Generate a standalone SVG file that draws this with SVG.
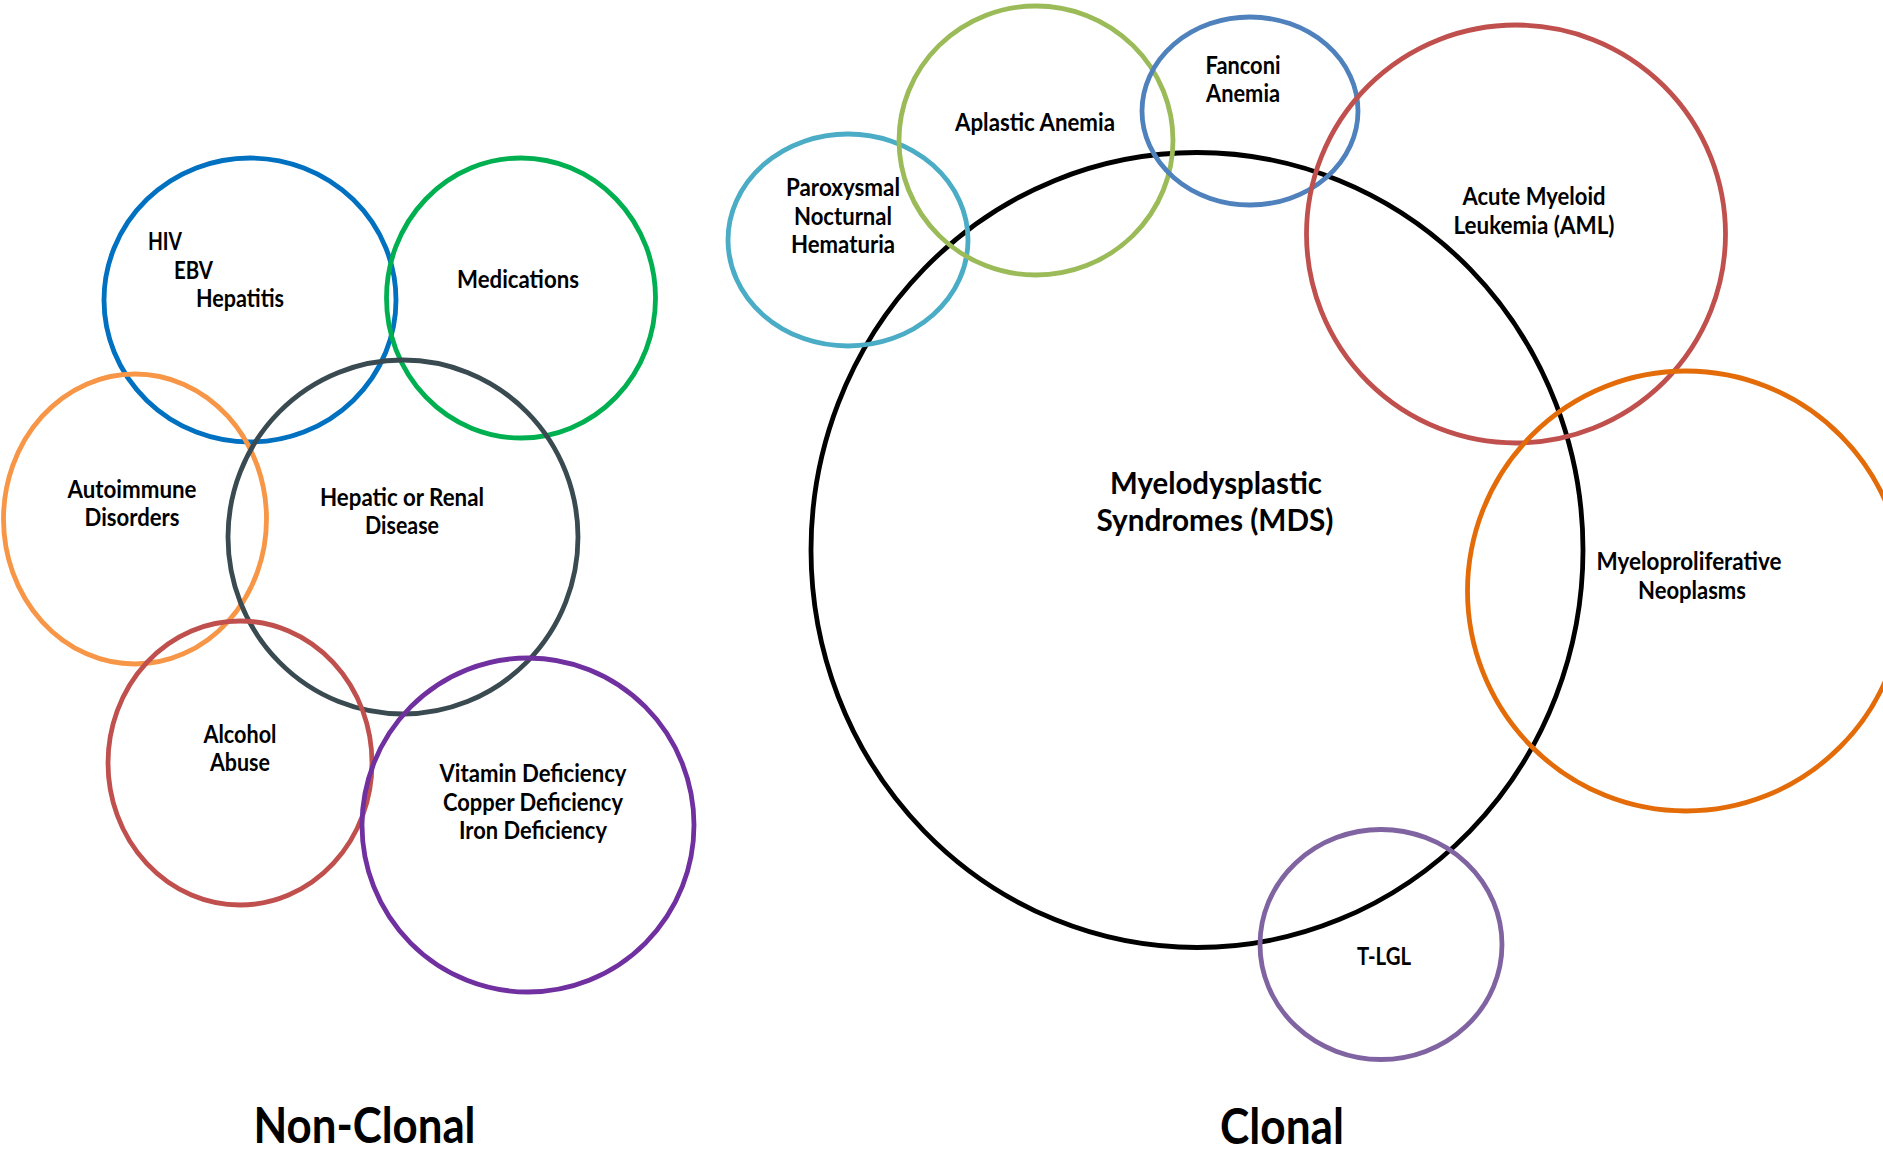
<svg xmlns="http://www.w3.org/2000/svg" width="1883" height="1154" viewBox="0 0 1883 1154">
<style>
.c{fill:none;stroke-width:4.8}
.t{font-family:Lato,"Open Sans","Liberation Sans",sans-serif;font-weight:bold;font-size:24px;fill:#000;text-anchor:middle}
.ts{text-anchor:start}
.big{font-size:31px}
.hdr{font-size:50px}
</style>
<rect width="1883" height="1154" fill="#fff"/>
<g id="connectors"/>
<g id="hiv">
<ellipse class="c" cx="250" cy="300" rx="146" ry="142" stroke="#0070C0"/>
<text class="t ts" x="148" y="249.5" textLength="34" lengthAdjust="spacingAndGlyphs">HIV</text>
<text class="t ts" x="174" y="278.5" textLength="39" lengthAdjust="spacingAndGlyphs">EBV</text>
<text class="t ts" x="196" y="306.5" textLength="88" lengthAdjust="spacingAndGlyphs">Hepatitis</text>
</g>
<g id="medications">
<ellipse class="c" cx="521" cy="298" rx="134.5" ry="140" stroke="#00B050"/>
<text class="t" x="518" y="287.5" textLength="122" lengthAdjust="spacingAndGlyphs">Medications</text>
</g>
<g id="autoimmune">
<ellipse class="c" cx="135" cy="519" rx="131.5" ry="145" stroke="#F79646"/>
<text class="t" x="132" y="497.5" textLength="129" lengthAdjust="spacingAndGlyphs">Autoimmune</text>
<text class="t" x="132" y="525.5" textLength="95" lengthAdjust="spacingAndGlyphs">Disorders</text>
</g>
<g id="hepatic">
<ellipse class="c" cx="403" cy="537" rx="175" ry="177" stroke="#3A4A51"/>
<text class="t" x="402" y="505.5" textLength="164" lengthAdjust="spacingAndGlyphs">Hepatic or Renal</text>
<text class="t" x="402" y="533.5" textLength="74" lengthAdjust="spacingAndGlyphs">Disease</text>
</g>
<g id="alcohol">
<ellipse class="c" cx="240" cy="763" rx="132" ry="142" stroke="#C0504D"/>
<text class="t" x="240" y="742.5" textLength="73" lengthAdjust="spacingAndGlyphs">Alcohol</text>
<text class="t" x="240" y="770.5" textLength="60" lengthAdjust="spacingAndGlyphs">Abuse</text>
</g>
<g id="deficiency">
<ellipse class="c" cx="528" cy="825" rx="166" ry="167" stroke="#7030A0"/>
<text class="t" x="533" y="781.5" textLength="187" lengthAdjust="spacingAndGlyphs">Vitamin Deficiency</text>
<text class="t" x="533" y="810.5" textLength="180" lengthAdjust="spacingAndGlyphs">Copper Deficiency</text>
<text class="t" x="533" y="838.5" textLength="148" lengthAdjust="spacingAndGlyphs">Iron Deficiency</text>
</g>
<g id="mds">
<ellipse class="c" cx="1197" cy="550" rx="386" ry="397.5" stroke="#000"/>
<text class="t big" x="1216" y="493.5" textLength="212" lengthAdjust="spacingAndGlyphs">Myelodysplastic</text>
<text class="t big" x="1215" y="530.5" textLength="237" lengthAdjust="spacingAndGlyphs">Syndromes (MDS)</text>
</g>
<g id="pnh">
<ellipse class="c" cx="848" cy="240" rx="120" ry="106" stroke="#4BACC6"/>
<text class="t" x="843" y="195.5" textLength="114" lengthAdjust="spacingAndGlyphs">Paroxysmal</text>
<text class="t" x="843" y="224.5" textLength="98" lengthAdjust="spacingAndGlyphs">Nocturnal</text>
<text class="t" x="843" y="252.5" textLength="104" lengthAdjust="spacingAndGlyphs">Hematuria</text>
</g>
<g id="aplastic">
<ellipse class="c" cx="1036" cy="140.5" rx="137" ry="134.5" stroke="#9BBB59"/>
<text class="t" x="1035" y="130.5" textLength="160" lengthAdjust="spacingAndGlyphs">Aplastic Anemia</text>
</g>
<g id="fanconi">
<ellipse class="c" cx="1250" cy="111" rx="108" ry="94" stroke="#4F81BD"/>
<text class="t" x="1243" y="73.5" textLength="75" lengthAdjust="spacingAndGlyphs">Fanconi</text>
<text class="t" x="1243" y="101.5" textLength="74" lengthAdjust="spacingAndGlyphs">Anemia</text>
</g>
<g id="aml">
<ellipse class="c" cx="1516" cy="234" rx="209.5" ry="209" stroke="#C0504D"/>
<text class="t" x="1534" y="204.5" textLength="143" lengthAdjust="spacingAndGlyphs">Acute Myeloid</text>
<text class="t" x="1534" y="233.5" textLength="161" lengthAdjust="spacingAndGlyphs">Leukemia (AML)</text>
</g>
<g id="mpn">
<ellipse class="c" cx="1686" cy="591" rx="218.5" ry="220" stroke="#E36C09"/>
<text class="t" x="1689" y="569.5" textLength="185" lengthAdjust="spacingAndGlyphs">Myeloproliferative</text>
<text class="t" x="1692" y="598.5" textLength="108" lengthAdjust="spacingAndGlyphs">Neoplasms</text>
</g>
<g id="tlgl">
<ellipse class="c" cx="1381" cy="944.5" rx="121" ry="115" stroke="#8064A2"/>
<text class="t" x="1384" y="964.5" textLength="54" lengthAdjust="spacingAndGlyphs">T-LGL</text>
</g>
<g id="labels">
<text class="t hdr" x="364.5" y="1143" textLength="222" lengthAdjust="spacingAndGlyphs">Non-Clonal</text>
<text class="t hdr" x="1282" y="1144" textLength="124" lengthAdjust="spacingAndGlyphs">Clonal</text>
</g>
</svg>
